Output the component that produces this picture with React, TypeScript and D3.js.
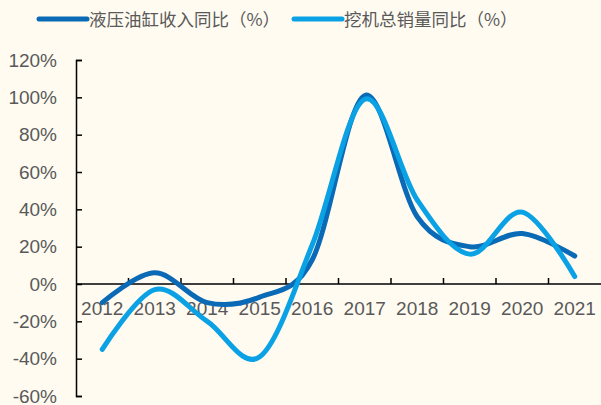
import React, { useEffect, useRef } from 'react';
import * as d3 from 'd3';

const years = ['2012', '2013', '2014', '2015', '2016', '2017', '2018', '2019', '2020', '2021'];
const cylinderRevenue = [-10, 6, -10, -7, 13, 101, 36, 20, 27, 15];
const excavatorSales = [-35, -3, -20, -39, 21, 99, 45, 16, 38.5, 4];
const yTicks = [-60, -40, -20, 0, 20, 40, 60, 80, 100, 120];
const seriesNames = ['液压油缸收入同比（%）', '挖机总销量同比（%）'];
const seriesColors = ['#0a6ab6', '#0aa2e5'];

const W = 601;
const H = 405;

const App: React.FC = () => {
  const svgRef = useRef<SVGSVGElement>(null);

  useEffect(() => {
    document.body.style.margin = '0';
    if (!svgRef.current) return;
    const svg = d3.select(svgRef.current);
    svg.selectAll('*').remove();

    const left = 76;
    const right = 601;
    const top = 60;
    const bottom = 396;

    svg.append('rect').attr('width', W).attr('height', H).attr('fill', '#fffbf1');

    const x = d3.scaleBand<string>().domain(years).range([left, right]);
    const y = d3.scaleLinear().domain([-60, 120]).range([bottom, top]);

    // y axis
    const yAxis = svg.append('g')
      .attr('transform', `translate(${left},0)`)
      .call(d3.axisLeft(y).tickValues(yTicks).tickSize(-6).tickPadding(19).tickFormat(d => `${d}%`));
    yAxis.select('.domain').attr('stroke', '#000').attr('stroke-width', 1.5);
    yAxis.selectAll('.tick line').attr('stroke', '#000').attr('stroke-width', 1.5);
    yAxis.selectAll('.tick text')
      .attr('fill', '#595959')
      .attr('font-size', 19)
      .attr('font-family', 'Liberation Sans, Arial, sans-serif');

    // x axis at 0
    const y0 = y(0);
    svg.append('line')
      .attr('x1', left).attr('x2', right)
      .attr('y1', y0).attr('y2', y0)
      .attr('stroke', '#000').attr('stroke-width', 1.5);
    years.forEach((yr, i) => {
      if (i === 0) return;
      const bx = x(yr)!;
      svg.append('line')
        .attr('x1', bx).attr('x2', bx)
        .attr('y1', y0).attr('y2', y0 - 6)
        .attr('stroke', '#000').attr('stroke-width', 1.5);
    });
    svg.append('g').selectAll('text')
      .data(years)
      .enter().append('text')
      .attr('x', d => x(d)! + x.bandwidth() / 2)
      .attr('y', y0 + 31)
      .attr('text-anchor', 'middle')
      .attr('fill', '#595959')
      .attr('font-size', 19)
      .attr('font-family', 'Liberation Sans, Arial, sans-serif')
      .text(d => d);

    // smoothed lines
    const line = d3.line<number>()
      .x((_, i) => x(years[i])! + x.bandwidth() / 2)
      .y(d => y(d))
      .curve(d3.curveCardinal.tension(0));

    [cylinderRevenue, excavatorSales].forEach((s, i) => {
      svg.append('path')
        .attr('d', line(s))
        .attr('fill', 'none')
        .attr('stroke', seriesColors[i])
        .attr('stroke-width', 5)
        .attr('stroke-linecap', 'round')
        .attr('stroke-linejoin', 'round');
    });

    // legend
    const legendX = [39, 294];
    seriesNames.forEach((name, i) => {
      const g = svg.append('g').attr('transform', `translate(${legendX[i]},19)`);
      g.append('line')
        .attr('x1', 0).attr('x2', 48)
        .attr('stroke', seriesColors[i])
        .attr('stroke-width', 5)
        .attr('stroke-linecap', 'round');
      g.append('text')
        .attr('x', 50)
        .attr('y', 7)
        .attr('fill', '#595959')
        .attr('font-size', 17.5)
        .attr('font-family', 'Noto Sans CJK SC, sans-serif')
        .text(name);
    });
  }, []);

  return <svg ref={svgRef} width={W} height={H} style={{ display: 'block' }} />;
};

export default App;
